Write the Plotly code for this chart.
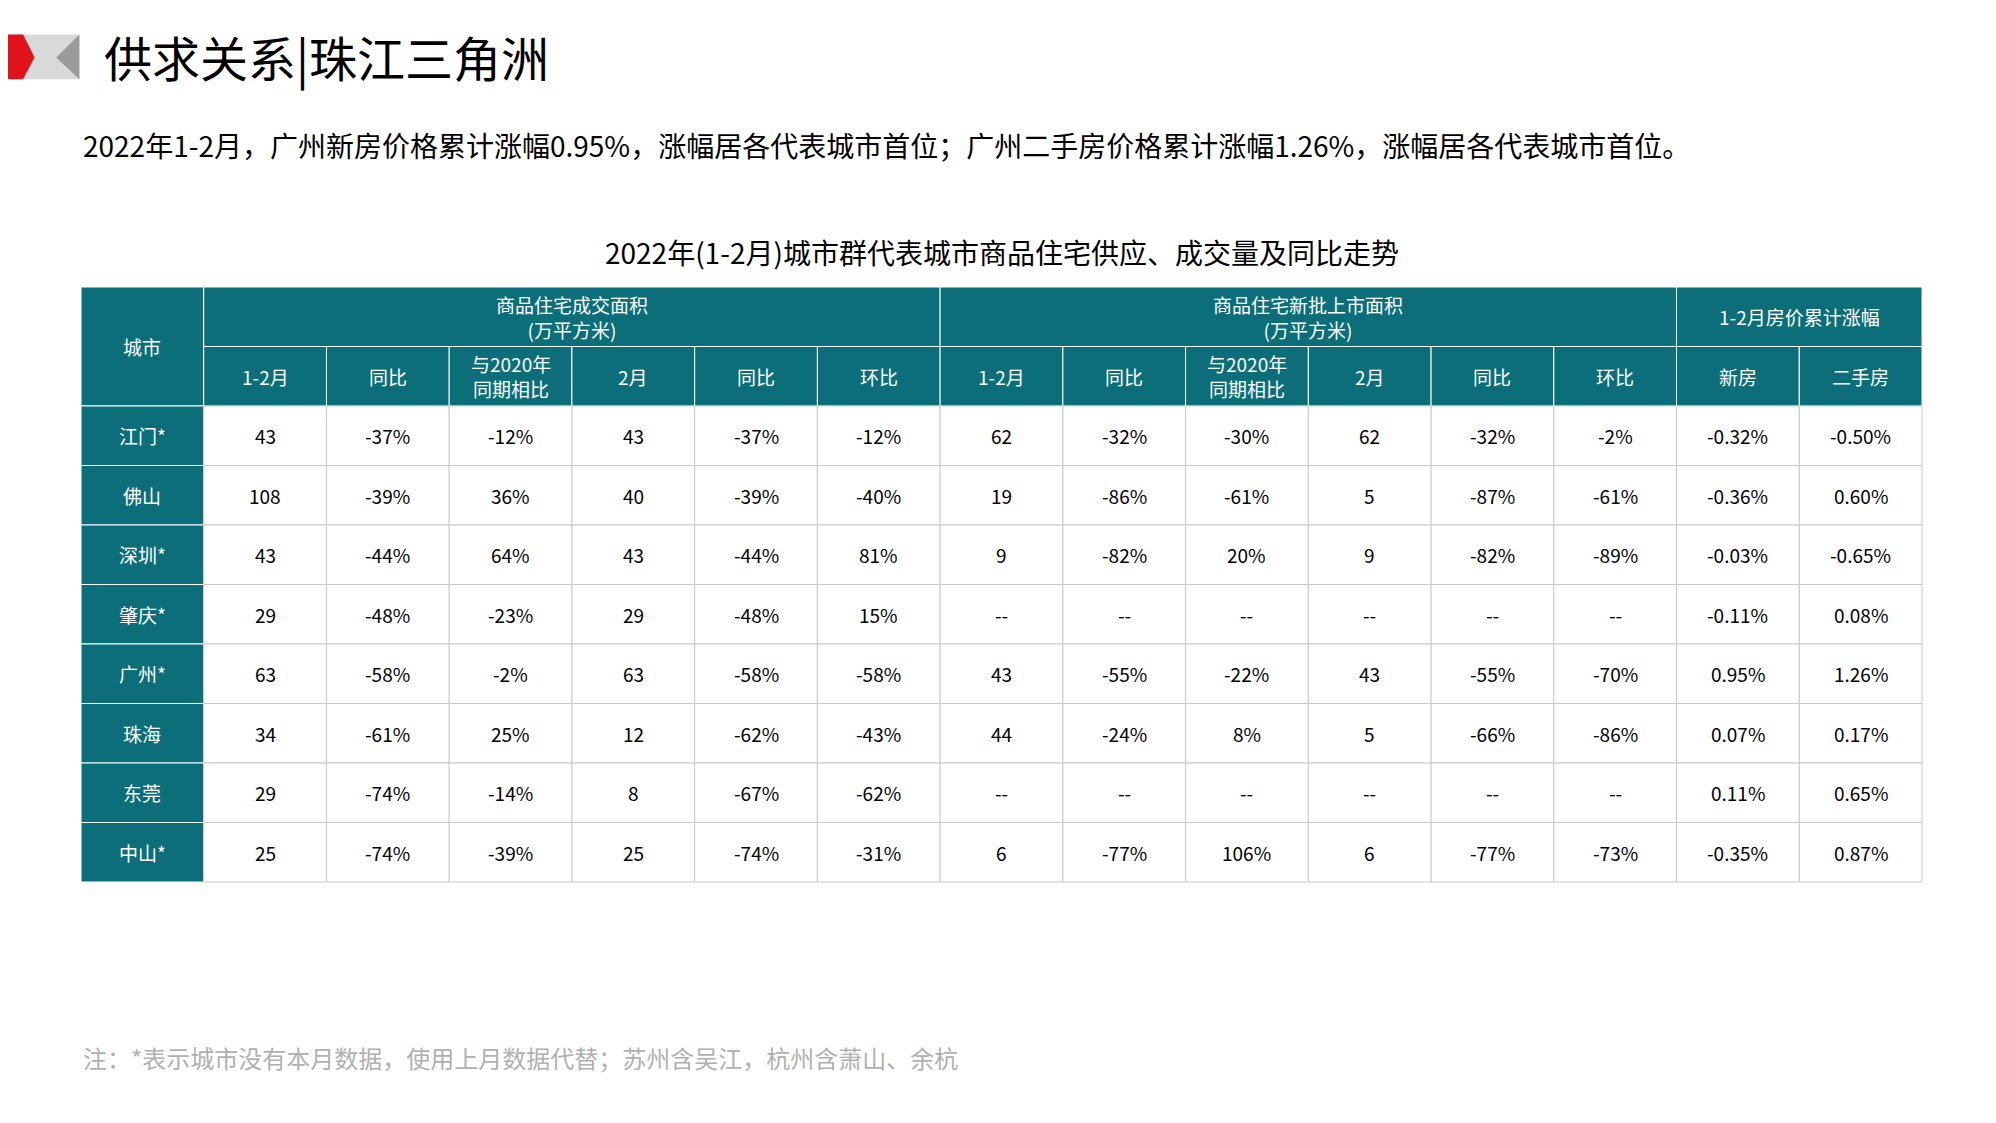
import plotly.graph_objects as go

W, H = 1996, 1123
TEAL = "#0b6e79"
FONT = "Noto Sans CJK SC"
OFF = 8  # page body margin

title = "供求关系|珠江三角洲"
subtitle = "2022年1-2月，广州新房价格累计涨幅0.95%，涨幅居各代表城市首位；广州二手房价格累计涨幅1.26%，涨幅居各代表城市首位。"
table_title = "2022年(1-2月)城市群代表城市商品住宅供应、成交量及同比走势"
note = "注：*表示城市没有本月数据，使用上月数据代替；苏州含吴江，杭州含萧山、余杭"

groups = ["商品住宅成交面积<br>(万平方米)", "商品住宅新批上市面积<br>(万平方米)", "1-2月房价累计涨幅"]
sub_headers = ["1-2月", "同比", "与2020年<br>同期相比", "2月", "同比", "环比",
               "1-2月", "同比", "与2020年<br>同期相比", "2月", "同比", "环比",
               "新房", "二手房"]
cities = ["江门*", "佛山", "深圳*", "肇庆*", "广州*", "珠海", "东莞", "中山*"]
rows = [
    ["43", "-37%", "-12%", "43", "-37%", "-12%", "62", "-32%", "-30%", "62", "-32%", "-2%", "-0.32%", "-0.50%"],
    ["108", "-39%", "36%", "40", "-39%", "-40%", "19", "-86%", "-61%", "5", "-87%", "-61%", "-0.36%", "0.60%"],
    ["43", "-44%", "64%", "43", "-44%", "81%", "9", "-82%", "20%", "9", "-82%", "-89%", "-0.03%", "-0.65%"],
    ["29", "-48%", "-23%", "29", "-48%", "15%", "--", "--", "--", "--", "--", "--", "-0.11%", "0.08%"],
    ["63", "-58%", "-2%", "63", "-58%", "-58%", "43", "-55%", "-22%", "43", "-55%", "-70%", "0.95%", "1.26%"],
    ["34", "-61%", "25%", "12", "-62%", "-43%", "44", "-24%", "8%", "5", "-66%", "-86%", "0.07%", "0.17%"],
    ["29", "-74%", "-14%", "8", "-67%", "-62%", "--", "--", "--", "--", "--", "--", "0.11%", "0.65%"],
    ["25", "-74%", "-39%", "25", "-74%", "-31%", "6", "-77%", "106%", "6", "-77%", "-73%", "-0.35%", "0.87%"],
]

fig = go.Figure()
shapes, ann = [], []

# table geometry
x0, x1, y0, y1 = 81 - OFF, 1922 - OFF, 287 - OFF, 882 - OFF
ncol = 1 + len(sub_headers)
nrow = 2 + len(cities)
cw = (x1 - x0) / ncol
rh = (y1 - y0) / nrow
cx = lambda c: x0 + c * cw
ry = lambda r: y0 + r * rh

def rect(xa, ya, xb, yb, fill, line="#c8c8c8"):
    shapes.append(dict(type="rect", x0=xa, y0=ya, x1=xb, y1=yb, fillcolor=fill,
                       line=dict(color=line, width=1), layer="below"))

def text(x, y, t, size=19, color="black", xanchor="center"):
    ann.append(dict(x=x, y=y, text=t, showarrow=False, xanchor=xanchor, yanchor="middle",
                    font=dict(family=FONT, size=size, color=color)))

# header
rect(cx(0), ry(0), cx(1), ry(2), TEAL, "white")
text((cx(0) + cx(1)) / 2, ry(1), "城市", color="white")
spans = [(1, 7), (7, 13), (13, 15)]
for g, (a, b) in zip(groups, spans):
    rect(cx(a), ry(0), cx(b), ry(1), TEAL, "white")
    text((cx(a) + cx(b)) / 2, (ry(0) + ry(1)) / 2, g, color="white")
for i, h in enumerate(sub_headers):
    rect(cx(i + 1), ry(1), cx(i + 2), ry(2), TEAL, "white")
    text((cx(i + 1) + cx(i + 2)) / 2, (ry(1) + ry(2)) / 2, h, color="white")

# body
for r, (city, vals) in enumerate(zip(cities, rows)):
    ya, yb = ry(r + 2), ry(r + 3)
    rect(cx(0), ya, cx(1), yb, TEAL, "white")
    text((cx(0) + cx(1)) / 2, (ya + yb) / 2, city, color="white")
    for c, v in enumerate(vals):
        rect(cx(c + 1), ya, cx(c + 2), yb, "white")
        text((cx(c + 1) + cx(c + 2)) / 2, (ya + yb) / 2, v)

# logo
s = 1.28
def poly(pts, color):
    path = "M " + " L ".join(f"{px*s - OFF},{py*s - OFF}" for px, py in pts) + " Z"
    shapes.append(dict(type="path", path=path, fillcolor=color, line=dict(width=0), layer="below"))
poly([(0, 27), (62, 27), (62, 62), (0, 62)], "#d9d9d9")
poly([(44, 45), (62, 27), (62, 62)], "#9a9a9a")
poly([(-8, 27), (18, 27), (27, 45), (18, 62), (-8, 62)], "#e0121b")

text(102 - OFF, 56 - OFF, title, size=48, xanchor="left")
text(81 - OFF, 145 - OFF, subtitle, size=28, xanchor="left")
text((x0 + x1) / 2, 252 - OFF, table_title, size=28)
text(81 - OFF, 1057 - OFF, note, size=24, color="#b0b0b0", xanchor="left")

fig.update_layout(
    width=W, height=H, margin=dict(l=0, r=0, t=0, b=0),
    plot_bgcolor="white", paper_bgcolor="white", showlegend=False,
    xaxis=dict(range=[0, W], visible=False, fixedrange=True),
    yaxis=dict(range=[H, 0], visible=False, fixedrange=True),
    shapes=shapes, annotations=ann,
)
fig.write_html("out.html")
